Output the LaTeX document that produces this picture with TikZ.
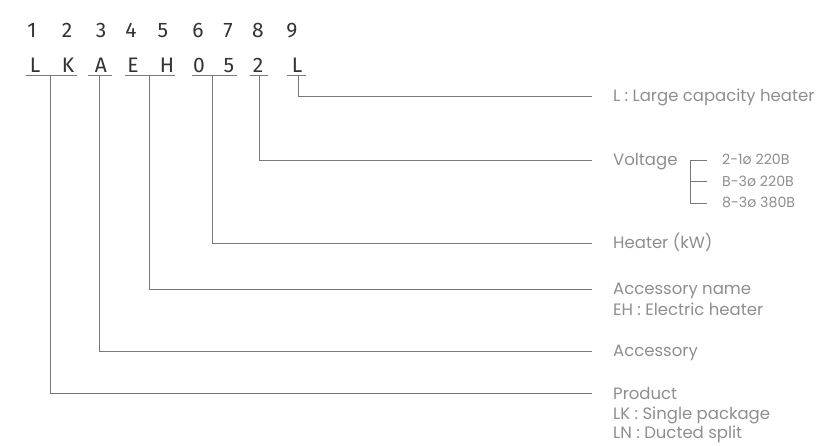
\documentclass[tikz,border=0pt]{standalone}
\usepackage{fontspec}
\setmainfont{Poppins}
\newfontfamily\codefont{Fira Sans}
\usetikzlibrary{positioning,calc}
\definecolor{cLine}{HTML}{787878}
\definecolor{cCode}{HTML}{333333}
\definecolor{cText}{HTML}{8e8e8e}
\tikzset{
  digit/.style={inner sep=0pt,anchor=base,text=cCode,
                font=\codefont\fontsize{21}{21}\selectfont},
  uline/.style={draw=cLine,line width=0.9pt},
  lead/.style={draw=cLine,line width=0.8pt},
  desc/.style={anchor=west,inner sep=0pt,text=cText,text height=11.5pt,
               text depth=0pt,font=\fontsize{16.5}{16.5}\selectfont},
  volt/.style={desc,text height=9.6pt,font=\fontsize{14.2}{14.2}\selectfont},
}
\begin{document}
\begin{tikzpicture}[x=1pt,y=-1pt]
  \useasboundingbox (0,0) rectangle (827,445);
  % code positions and characters
  \foreach \d/\x in {1/32,2/67,3/101,4/131,5/163,6/198,7/228,8/258,9/292}
    \node[digit] (d\d) at (\x,37) {\d};
  \foreach \c/\x [count=\i] in {L/35,K/68,A/101,E/133,H/167,0/199,5/229,2/258,L/297}
    \node[digit] (c\i) at (\x,72) {\c};
  % underlines
  \foreach \n/\a/\b/\m in {LK/26/77/50,A/88/112/99,EH/125/175/149,
                           kw/192/237/212,vo/250/268/259,cap/287/306/298}{
    \draw[uline] (\a,75) -- (\b,75);
    \coordinate (u\n) at (\m,75);}
  % descriptions
  \node[desc] (tCap) at (613,96) {L : Large capacity heater};
  \node[desc] (tVolt) at (613,160) {Voltage};
  \node[volt] (v1) at (722,160) {2-1ø 220B};
  \node[volt] (v2) at (722,181.5) {B-3ø 220B};
  \node[volt] (v3) at (722,203) {8-3ø 380B};
  \node[desc] (tKw) at (613,243) {Heater (kW)};
  \node[desc] (tEh) at (613,289) {Accessory name};
  \node[desc] (tEh2) at (613,310) {EH : Electric heater};
  \node[desc] (tAcc) at (613,351) {Accessory};
  \node[desc] (tPr) at (613,393.5) {Product};
  \node[desc] (tPr2) at (613,413.5) {LK : Single package};
  \node[desc] (tPr3) at (613,433) {LN : Ducted split};
  % leaders
  \draw[lead] (ucap) |- ([xshift=-21pt]tCap.west);
  \draw[lead] (uvo) |- ([xshift=-21pt]tVolt.west);
  \draw[lead] (ukw) |- ([xshift=-21pt]tKw.west);
  \draw[lead] (uEH) |- ([xshift=-21pt]tEh.west);
  \draw[lead] (uA) |- ([xshift=-21pt]tAcc.west);
  \draw[lead] (uLK) |- ([xshift=-21pt]tPr.west);
  % voltage bracket
  \draw[lead] ([xshift=-15pt]v1.west) -- ([xshift=-32pt]v1.west)
     |- ([xshift=-15pt]v3.west);
  \draw[lead] ([xshift=-32pt]v2.west) -- ([xshift=-15pt]v2.west);
\end{tikzpicture}
\end{document}
